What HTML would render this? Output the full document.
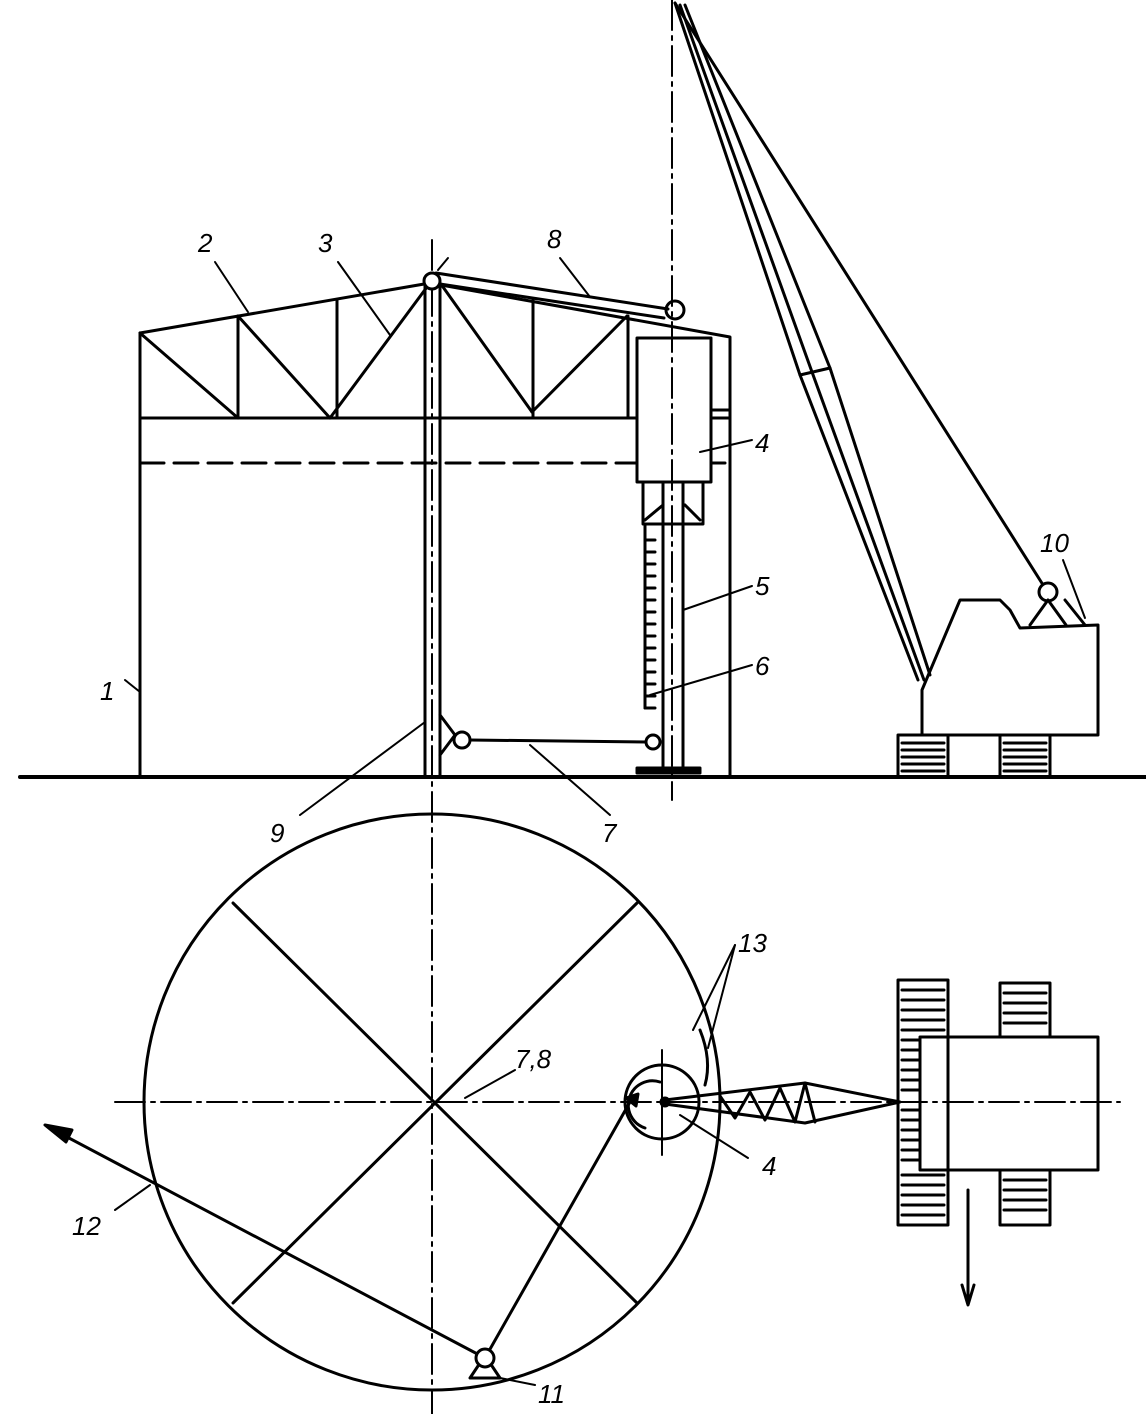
<!DOCTYPE html>
<html><head><meta charset="utf-8"><style>html,body{margin:0;padding:0;background:#fff}svg{display:block}
text{font-family:"Liberation Sans",sans-serif;font-style:italic;font-size:26px;fill:#000;stroke:none}</style></head>
<body>
<svg width="1146" height="1414" viewBox="0 0 1146 1414" xmlns="http://www.w3.org/2000/svg" fill="none" stroke="#000" stroke-width="3" stroke-linecap="round" stroke-linejoin="round">
<line x1="20" y1="777" x2="1146" y2="777" stroke-width="4"/>
<line x1="140" y1="333" x2="140" y2="777"/>
<polyline points="140,333 430,283 730,337 730,777"/>
<line x1="140" y1="418" x2="637" y2="418"/>
<line x1="711" y1="418" x2="730" y2="418"/>
<line x1="140" y1="463" x2="637" y2="463" stroke-dasharray="24,10"/>
<line x1="711" y1="463" x2="730" y2="463" stroke-dasharray="14,6"/>
<polyline points="140,333 238,418 238,316"/>
<line x1="238" y1="316" x2="330" y2="418"/>
<line x1="337" y1="300" x2="337" y2="418"/>
<line x1="330" y1="418" x2="427" y2="287"/>
<line x1="443" y1="287" x2="532" y2="412"/>
<line x1="533" y1="300" x2="533" y2="418"/>
<line x1="532" y1="412" x2="627" y2="316"/>
<line x1="628" y1="316" x2="628" y2="418"/>
<line x1="425" y1="283" x2="425" y2="777"/>
<line x1="440" y1="283" x2="440" y2="777"/>
<line x1="432" y1="240" x2="432" y2="1414" stroke-width="2" stroke-dasharray="30,6,4,6"/>
<circle cx="432" cy="281" r="8" fill="#fff"/>
<line x1="438" y1="270" x2="448" y2="258" stroke-width="2"/>
<line x1="436" y1="273" x2="668" y2="309"/>
<line x1="440" y1="284" x2="664" y2="318"/>
<circle cx="675" cy="310" r="9"/>
<rect x="637" y="338" width="74" height="144"/>
<line x1="711" y1="410" x2="730" y2="410"/>
<rect x="643" y="482" width="60" height="42"/>
<line x1="645" y1="520" x2="663" y2="505"/>
<line x1="685" y1="505" x2="700" y2="520"/>
<line x1="663" y1="482" x2="663" y2="768"/>
<line x1="683" y1="482" x2="683" y2="768"/>
<line x1="645" y1="524" x2="645" y2="708"/>
<path d="M645 540h10M645 552h10M645 564h10M645 576h10M645 588h10M645 600h10M645 612h10M645 624h10M645 636h10M645 648h10M645 660h10M645 672h10M645 684h10M645 696h10M645 708h10"/>
<rect x="637" y="768" width="63" height="5" fill="#000"/>
<line x1="672" y1="0" x2="672" y2="800" stroke-width="2" stroke-dasharray="30,6,4,6"/>
<line x1="470" y1="740" x2="646" y2="742"/>
<circle cx="462" cy="740" r="8" fill="#fff"/>
<circle cx="653" cy="742" r="7" fill="#fff"/>
<polyline points="440,715 455,735 440,755"/>
<!-- crane jib -->
<polyline points="675,3 800,375 918,680"/>
<polyline points="680,5 812,372 924,680"/>
<polyline points="685,5 830,368 930,675"/>
<line x1="800" y1="375" x2="830" y2="368"/>
<line x1="675" y1="3" x2="1045" y2="588"/>
<polygon points="922,690 960,600 1000,600 1010,610 1020,628 1098,625 1098,735 922,735"/>
<circle cx="1048" cy="592" r="9" fill="#fff"/>
<polyline points="1030,625 1048,600 1066,625"/>
<line x1="1065" y1="600" x2="1085" y2="625"/>
<rect x="898" y="735" width="50" height="42"/>
<rect x="1000" y="735" width="50" height="42"/>
<path d="M902 743h42M902 750h42M902 757h42M902 764h42M902 771h42M1004 743h42M1004 750h42M1004 757h42M1004 764h42M1004 771h42"/>
<line x1="125" y1="680" x2="140" y2="692" stroke-width="2"/><text x="100" y="700">1</text>
<line x1="215" y1="262" x2="248" y2="312" stroke-width="2"/><text x="198" y="252">2</text>
<line x1="338" y1="262" x2="390" y2="335" stroke-width="2"/><text x="318" y="252">3</text>
<line x1="560" y1="258" x2="590" y2="297" stroke-width="2"/><text x="547" y="248">8</text>
<line x1="700" y1="452" x2="752" y2="440" stroke-width="2"/><text x="755" y="452">4</text>
<line x1="683" y1="610" x2="752" y2="586" stroke-width="2"/><text x="755" y="595">5</text>
<line x1="650" y1="695" x2="752" y2="665" stroke-width="2"/><text x="755" y="675">6</text>
<line x1="1063" y1="560" x2="1085" y2="618" stroke-width="2"/><text x="1040" y="552">10</text>
<line x1="300" y1="815" x2="425" y2="722" stroke-width="2"/><text x="270" y="842">9</text>
<line x1="530" y1="745" x2="610" y2="815" stroke-width="2"/><text x="602" y="842">7</text>
<circle cx="432" cy="1102" r="288"/>
<path d="M700 1030 Q712 1060 705 1085" stroke-width="3"/>
<line x1="233" y1="903" x2="637" y2="1303"/>
<line x1="637" y1="903" x2="233" y2="1303"/>
<line x1="115" y1="1102" x2="1120" y2="1102" stroke-width="2" stroke-dasharray="30,6,4,6"/>
<circle cx="662" cy="1102" r="37"/>
<path d="M660 1082 A20 20 0 1 0 645 1128"/>
<path d="M626 1098 l12 -4 l-2 12 z" fill="#000"/>
<circle cx="665" cy="1102" r="4" fill="#000"/>
<line x1="662" y1="1050" x2="662" y2="1155" stroke-width="2"/>
<polyline points="665,1100 805,1083 900,1102 805,1123 665,1104"/>
<polyline points="720,1096 735,1118 750,1092 765,1120 780,1088 795,1122 805,1083 815,1122"/>
<rect x="920" y="1037" width="178" height="133"/>
<rect x="898" y="980" width="50" height="245"/>
<rect x="1000" y="983" width="50" height="54"/>
<rect x="1000" y="1170" width="50" height="55"/>
<path d="M902 990h42M902 1000h42M902 1010h42M902 1020h42M902 1030h42M902 1040h18M902 1050h18M902 1060h18M902 1070h18M902 1080h18M902 1090h18M902 1110h18M902 1120h18M902 1130h18M902 1140h18M902 1150h18M902 1160h18M902 1175h42M902 1185h42M902 1195h42M902 1205h42M902 1215h42M1004 993h42M1004 1003h42M1004 1013h42M1004 1023h42M1004 1180h42M1004 1190h42M1004 1200h42M1004 1210h42"/>
<line x1="968" y1="1190" x2="968" y2="1300"/>
<path d="M962 1285 L968 1305 L974 1285"/>
<line x1="485" y1="1358" x2="50" y2="1128"/>
<path d="M45 1125 L72 1130 L66 1142 Z" fill="#000"/>
<line x1="485" y1="1358" x2="630" y2="1102"/>
<circle cx="485" cy="1358" r="9" fill="#fff"/>
<polyline points="478,1366 470,1378 500,1378 492,1366"/>
<line x1="115" y1="1210" x2="150" y2="1185" stroke-width="2"/><text x="72" y="1235">12</text>
<line x1="500" y1="1378" x2="535" y2="1385" stroke-width="2"/><text x="538" y="1403">11</text>
<line x1="735" y1="945" x2="693" y2="1030" stroke-width="2"/>
<line x1="735" y1="945" x2="708" y2="1048" stroke-width="2"/><text x="738" y="952">13</text>
<line x1="465" y1="1098" x2="515" y2="1070" stroke-width="2"/><text x="515" y="1068">7,8</text>
<line x1="680" y1="1115" x2="748" y2="1158" stroke-width="2"/><text x="762" y="1175">4</text>
</svg>
</body></html>
